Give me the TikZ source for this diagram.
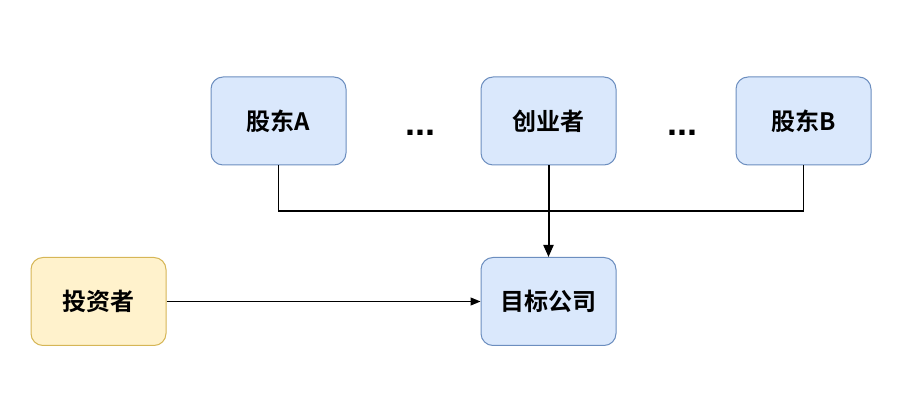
\documentclass[tikz,border=0pt]{standalone}
\usepackage{fontspec}
\setmainfont{Noto Sans CJK SC}[BoldFont={* Bold}]
\newfontfamily\dotfont{Liberation Sans}
\usetikzlibrary{arrows.meta}
\definecolor{bfill}{HTML}{DAE8FC}
\definecolor{bdraw}{HTML}{6C8EBF}
\definecolor{yfill}{HTML}{FFF2CC}
\definecolor{ydraw}{HTML}{D6B656}
\begin{document}
\begin{tikzpicture}[x=1pt,y=-1pt,
  box/.style={draw=bdraw,fill=bfill,rounded corners=12pt,minimum width=135pt,minimum height=88pt,inner sep=0pt,line width=1pt,font=\fontsize{24}{26}\selectfont\bfseries},
  ybox/.style={box,draw=ydraw,fill=yfill},
  dots/.style={font=\dotfont\fontsize{36}{38}\selectfont\bfseries,inner sep=0pt},
  conn/.style={line width=1.1pt,-{Triangle[length=10pt,width=8pt]}},
  thick conn/.style={line width=2pt,-{Triangle[length=12pt,width=10pt]}}]
\useasboundingbox (0,0) rectangle (916,419);
\node[box] (a) at (278.5,121) {股东A};
\node[box] (c) at (548.5,121) {创业者};
\node[box] (b) at (803.5,121) {股东B};
\node[box] (t) at (548.5,301.5) {目标公司};
\node[ybox] (i) at (98.5,301.5) {投资者};
\node[dots,anchor=base] (d1) at (420,136) {...};
\node[dots,anchor=base] (d2) at (682,136) {...};
\coordinate (bus) at (548.5,211);
\draw[line width=1.1pt] (a.south) |- (bus) -| (b.south);
\draw[thick conn] (c.south) -- (t.north);
\draw[conn] (i.east) -- (t.west);
\end{tikzpicture}
\end{document}
